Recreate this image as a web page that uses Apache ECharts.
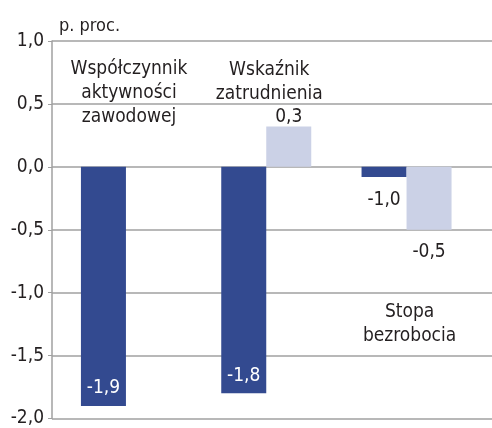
<!DOCTYPE html>
<html>
<head>
<meta charset="utf-8">
<script src="https://cdn.jsdelivr.net/npm/echarts@6/dist/echarts.min.js"></script>
<style>
  html, body { margin: 0; padding: 0; background: #fff; }
  #chart { width: 492px; height: 428px; }
</style>
</head>
<body>
<div id="chart"></div>
<script>
  // dane
  const categories = ['Współczynnik\naktywności\nzawodowej', 'Wskaźnik\nzatrudnienia', 'Stopa\nbezrobocia'];
  const darkValues = [-1.9, -1.8, -0.08];
  const darkLabels = ['-1,9', '-1,8', '-1,0'];
  const lightValues = ['-', 0.32, -0.5];
  const lightLabels = ['', '0,3', '-0,5'];
  const categoryLabelY = [0.59, 0.67, -1.25];
  const yTicks = [-2, -1.5, -1, -0.5, 0, 0.5, 1];

  const FONT = '"DejaVu Sans Condensed", "DejaVu Sans", sans-serif';
  const STRETCH = 'condensed';
  const DARK = '#334a90';
  const LIGHT = '#cbd1e6';
  const TEXT = '#231f20';

  const chart = echarts.init(document.getElementById('chart'));

  const darkData = darkValues.map((v, i) => {
    const inside = v < -0.5;
    return {
      value: [i, v],
      label: {
        show: true,
        formatter: darkLabels[i],
        position: inside ? 'insideBottom' : 'bottom',
        distance: inside ? 8 : 14,
        color: inside ? '#fff' : TEXT
      }
    };
  });

  const lightData = lightValues.map((v, i) => ({
    value: [i, v],
    label: {
      show: lightLabels[i] !== '',
      formatter: lightLabels[i],
      position: v > 0 ? 'top' : 'bottom',
      distance: v > 0 ? 0 : 13,
      color: TEXT
    }
  }));

  const txt = { fontFamily: FONT, fontStyle: STRETCH, fontSize: 19, color: TEXT };

  const option = {
    animation: false,
    title: {
      text: 'p. proc.',
      left: 54,
      top: 12,
      textStyle: Object.assign({}, txt, { fontSize: 18, fontWeight: 'normal' })
    },
    grid: { left: 52, right: 0, top: 41, bottom: 8 },
    xAxis: {
      type: 'value',
      min: -0.527,
      max: 2.609,
      show: false,
      splitLine: { show: false }
    },
    yAxis: {
      type: 'value',
      min: -2,
      max: 1,
      interval: 0.5,
      axisLine: { show: true, onZero: false, lineStyle: { color: '#a0a0a0', width: 1.5 } },
      axisTick: { show: true, length: 4, lineStyle: { color: '#a0a0a0' } },
      axisLabel: Object.assign({}, txt, {
        margin: 8,
        formatter: v => yTicks.includes(v) ? v.toFixed(1).replace('.', ',') : ''
      }),
      splitLine: { show: true, lineStyle: { color: '#a0a0a0', width: 1.5 } }
    },
    series: [
      {
        type: 'bar',
        barWidth: 45,
        barGap: '0%',
        itemStyle: { color: DARK },
        label: Object.assign({}, txt),
        data: darkData,
        z: 3
      },
      {
        type: 'bar',
        barWidth: 45,
        barGap: '0%',
        itemStyle: { color: LIGHT },
        label: Object.assign({}, txt),
        data: lightData,
        z: 3
      },
      {
        type: 'scatter',
        symbolSize: 0,
        silent: true,
        itemStyle: { opacity: 1 },
        label: Object.assign({}, txt, {
          show: true,
          position: 'inside',
          lineHeight: 24,
          align: 'center',
          offset: [3, 0],
          formatter: p => categories[p.dataIndex]
        }),
        data: categories.map((c, i) => [i, categoryLabelY[i]]),
        z: 5
      }
    ]
  };
  chart.setOption(option);
</script>
</body>
</html>
